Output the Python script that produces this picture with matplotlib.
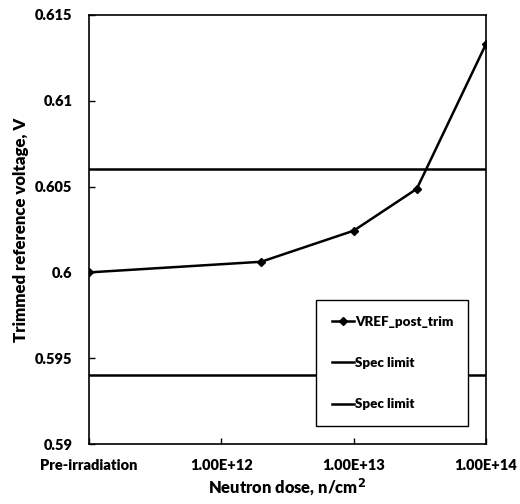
import matplotlib
matplotlib.use("Agg")
import matplotlib.pyplot as plt

plt.rcParams['font.family'] = ['Lato', 'DejaVu Sans']
plt.rcParams['font.weight'] = 'heavy'

# Data
dose = [1e11, 2e12, 1e13, 3e13, 1e14]
vref = [0.6000, 0.60062, 0.60243, 0.60487, 0.61331]
spec_upper = 0.606
spec_lower = 0.594
xtick_vals = [1e11, 1e12, 1e13, 1e14]
xtick_labels = ["Pre-irradiation", "1.00E+12", "1.00E+13", "1.00E+14"]
yticks = [0.59, 0.595, 0.6, 0.605, 0.61, 0.615]
ytick_labels = ["0.59", "0.595", "0.6", "0.605", "0.61", "0.615"]
xlabel = "Neutron dose, n/cm$^\\mathbf{2}$"
ylabel = "Trimmed reference voltage, V"

W = 'heavy'

fig = plt.figure(figsize=(5.2, 5.04), dpi=100)
renderer = fig.canvas.get_renderer()


def fit_size(text, target_px, base=10.0):
    t = fig.text(0, 0, text, fontsize=base, fontweight=W)
    w = t.get_window_extent(renderer).width
    t.remove()
    return base * target_px / w


tick_fs = fit_size("Pre-irradiation", 97)
ylabel_fs = fit_size(ylabel, 225)
xlabel_fs = fit_size(xlabel, 158)
leg_fs = fit_size("VREF_post_trim", 98)

ax = fig.add_axes([89/520, 1-444/504, 397/520, 429/504])

ax.set_xscale('log')
ax.plot(dose, vref, color='black', lw=1.8, marker='D', ms=4, label='VREF_post_trim', zorder=3)
ax.axhline(spec_upper, color='black', lw=1.8, label='Spec limit')
ax.axhline(spec_lower, color='black', lw=1.8, label='Spec limit')

ax.set_xlim(1e11, 1e14)
ax.set_ylim(0.59, 0.615)
ax.set_xticks(xtick_vals)
ax.set_xticklabels(xtick_labels)
ax.minorticks_off()
ax.set_yticks(yticks)
ax.set_yticklabels(ytick_labels)
ax.tick_params(axis='both', direction='in', length=4, width=1, labelsize=tick_fs)
ax.tick_params(axis='x', pad=11)
ax.tick_params(axis='y', pad=12)
for lab in ax.get_xticklabels() + ax.get_yticklabels():
    lab.set_fontweight(W)
for sp in ax.spines.values():
    sp.set_linewidth(1.2)

ax.set_xlabel(xlabel, fontsize=xlabel_fs, fontweight=W, labelpad=3)
ax.set_ylabel(ylabel, fontsize=ylabel_fs, fontweight=W, labelpad=4)

fs_px = leg_fs * 100 / 72
leg = ax.legend(loc='upper left', bbox_to_anchor=(0.5718, 0.0, 0.383, 0.3357), mode='expand',
                borderaxespad=0, fancybox=False, edgecolor='black', framealpha=1,
                handlelength=22 / fs_px, labelspacing=(44.5 - fs_px * 1.15) / fs_px,
                borderpad=16 / fs_px, handletextpad=0.05,
                prop={'weight': W, 'size': leg_fs})
leg.get_frame().set_linewidth(1.0)

fig.savefig("out.png", dpi=100)
